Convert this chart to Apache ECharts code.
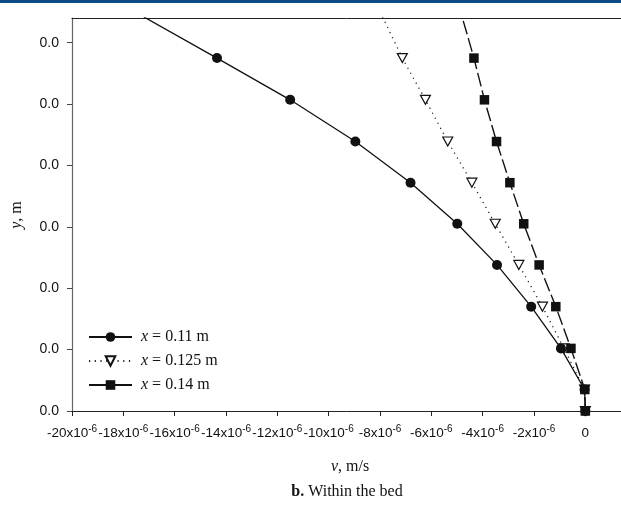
<!DOCTYPE html>
<html>
<head>
<meta charset="utf-8">
<script src="https://cdn.jsdelivr.net/npm/echarts@6/dist/echarts.min.js"></script>
<style>
html,body{margin:0;padding:0;background:#fff;}
#chart{width:621px;height:512px;}
</style>
</head>
<body>
<div id="chart"></div>
<script>
// y levels (m) shared by all three profiles; last point lies above the plotted range
const yLevels = [0, 0.0035, 0.0102, 0.0170, 0.0238, 0.0305, 0.0372, 0.0439, 0.0507, 0.0575, 0.0642];
// v (m/s) for each profile
const v011  = [0, -0.03e-6, -0.95e-6, -2.11e-6, -3.44e-6, -4.99e-6, -6.81e-6, -8.96e-6, -11.50e-6, -14.35e-6, -17.2e-6];
const v0125 = [0, -0.03e-6, -0.83e-6, -1.67e-6, -2.59e-6, -3.51e-6, -4.42e-6, -5.36e-6, -6.23e-6, -7.13e-6, -7.9e-6];
const v014  = [0, -0.02e-6, -0.56e-6, -1.15e-6, -1.80e-6, -2.40e-6, -2.94e-6, -3.46e-6, -3.93e-6, -4.34e-6, -4.8e-6];
const seriesNames = ['x = 0.11 m', 'x = 0.125 m', 'x = 0.14 m'];
// axis ticks
const xTicks = [-20e-6, -18e-6, -16e-6, -14e-6, -12e-6, -10e-6, -8e-6, -6e-6, -4e-6, -2e-6, 0];
const xTickMantissa = ['-20', '-18', '-16', '-14', '-12', '-10', '-8', '-6', '-4', '-2', '0'];
const yTicks = [0, 0.01, 0.02, 0.03, 0.04, 0.05, 0.06];
const yTickLabels = ['0.0', '0.0', '0.0', '0.0', '0.0', '0.0', '0.0'];

const xMin = -20e-6, xMax = 1.39e-6, yMin = 0, yMax = 0.06403;

function pairs(xs) { return xs.map((x, i) => [x, yLevels[i]]); }

const chart = echarts.init(document.getElementById('chart'), null, {renderer: 'canvas'});
const sans = 'Liberation Sans, Arial, sans-serif';
const serif = 'Liberation Serif, Times New Roman, serif';

const option = {
  animation: false,
  backgroundColor: '#fff',
  grid: {left: 72, right: 0, top: 18, bottom: 101},
  legend: {
    data: [
      {name: seriesNames[0], lineStyle: {type: 'solid'}},
      {name: seriesNames[1]},
      {name: seriesNames[2], lineStyle: {type: 'solid'}}
    ],
    orient: 'vertical',
    left: 83, top: 324,
    itemWidth: 43, itemHeight: 12, itemGap: 8,
    formatter: function (name) { return '{i|x}' + name.slice(1); },
    textStyle: {
      fontFamily: serif, fontSize: 16, color: '#111', padding: [0, 0, 0, 4],
      rich: {i: {fontFamily: serif, fontStyle: 'italic', fontSize: 16, color: '#111'}}
    }
  },
  xAxis: [{
    type: 'value', min: xMin, max: xMax,
    splitLine: {show: false},
    axisLine: {show: true, onZero: false, lineStyle: {color: '#222', width: 1}},
    axisTick: {show: true, inside: false, length: 5, customValues: xTicks, lineStyle: {color: '#222'}},
    axisLabel: {
      show: true, margin: 13, customValues: xTicks,
      showMinLabel: true, showMaxLabel: true, hideOverlap: false,
      formatter: function (val) {
        let idx = -1;
        for (let i = 0; i < xTicks.length; i++) if (Math.abs(xTicks[i] - val) < 1e-9) idx = i;
        if (idx < 0) return '';
        const m = xTickMantissa[idx];
        if (m === '0') return '{a|0}';
        return '{a|' + m + 'x10}{b|-6}';
      },
      rich: {
        a: {fontFamily: sans, fontSize: 13.5, color: '#111', lineHeight: 16, verticalAlign: 'bottom'},
        b: {fontFamily: sans, fontSize: 10, color: '#111', lineHeight: 16, verticalAlign: 'top', padding: [0, 0, 6, 0]}
      }
    }
  }, {
    type: 'value', position: 'top', min: xMin, max: xMax,
    splitLine: {show: false},
    axisLine: {show: true, onZero: false, lineStyle: {color: '#222', width: 1}},
    axisTick: {show: false}, axisLabel: {show: false}
  }],
  yAxis: {
    type: 'value', min: yMin, max: yMax,
    splitLine: {show: false},
    axisLine: {show: true, onZero: false, lineStyle: {color: '#666', width: 1.2}},
    axisTick: {show: true, inside: false, length: 5, customValues: yTicks, lineStyle: {color: '#444'}},
    axisLabel: {
      show: true, margin: 13, customValues: yTicks,
      showMinLabel: true, showMaxLabel: true, hideOverlap: false,
      fontFamily: sans, fontSize: 14, color: '#111',
      formatter: function (val) {
        for (let i = 0; i < yTicks.length; i++) if (Math.abs(yTicks[i] - val) < 1e-9) return yTickLabels[i];
        return '';
      }
    }
  },
  series: [{
    name: seriesNames[1], type: 'line', data: pairs(v0125), xAxisIndex: 0,
    symbol: 'triangle', symbolRotate: 180, symbolSize: [10, 9],
    itemStyle: {color: '#fff', borderColor: '#111', borderWidth: 1.2},
    lineStyle: {color: '#222', width: 1.3, type: [1.2, 4.5]},
    z: 2
  }, {
    name: seriesNames[0], type: 'line', data: pairs(v011), xAxisIndex: 0,
    symbol: 'circle', symbolSize: 10,
    itemStyle: {color: '#111', borderColor: '#111', borderWidth: 0},
    lineStyle: {color: '#111', width: 1.3, type: 'solid'},
    z: 3
  }, {
    name: seriesNames[2], type: 'line', data: pairs(v014), xAxisIndex: 0,
    symbol: 'rect', symbolSize: 9.5,
    itemStyle: {color: '#111', borderColor: '#111', borderWidth: 0},
    lineStyle: {color: '#111', width: 1.4, type: [14, 4]},
    z: 4
  }],
  graphic: [
    {type: 'rect', left: 0, top: 0, shape: {width: 621, height: 3}, style: {fill: '#0c4a88'}},
    {type: 'text', x: 350, y: 467,
      style: {text: '{i|v}, m/s', align: 'center', verticalAlign: 'middle', font: '16px ' + serif, fill: '#111',
        rich: {i: {fontStyle: 'italic', fontFamily: serif, fontSize: 16, fill: '#111'}}}},
    {type: 'text', x: 347, y: 492,
      style: {text: '{b|b.} Within the bed', align: 'center', verticalAlign: 'middle', font: '16px ' + serif, fill: '#111',
        rich: {b: {fontWeight: 'bold', fontFamily: serif, fontSize: 16, fill: '#111'}}}},
    {type: 'text', x: 17, y: 215, rotation: Math.PI / 2,
      style: {text: '{i|y}, m', align: 'center', verticalAlign: 'middle', font: '16px ' + serif, fill: '#111',
        rich: {i: {fontStyle: 'italic', fontFamily: serif, fontSize: 16, fill: '#111'}}}}
  ]
};
chart.setOption(option);
</script>
</body>
</html>
